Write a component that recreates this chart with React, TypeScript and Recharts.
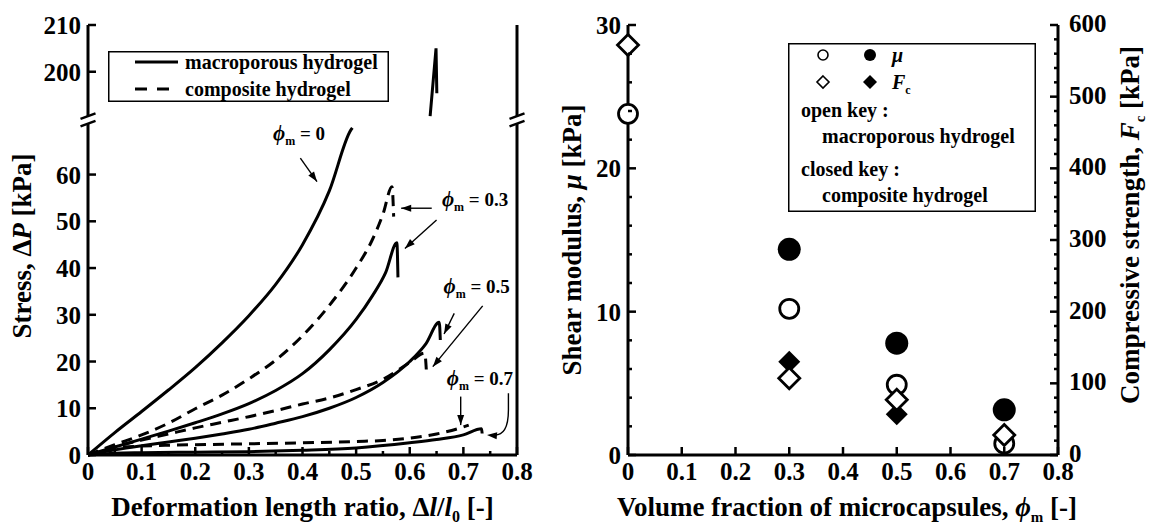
import React from 'react';
import {
  LineChart,
  Line,
  ScatterChart,
  Scatter,
  XAxis,
  YAxis,
  ReferenceLine,
  ReferenceDot,
  Legend
} from 'recharts';

const FONT = "'Liberation Serif', 'Times New Roman', serif";
const INK = '#000';

// ---------- left panel: stress vs deformation ----------
// y axis is broken: 0..70 shown, then jumps to 190..210
const BREAK_AT = 70;
const BREAK_SHIFT = 118;

const strainPhi0 = [0, 0.05, 0.1, 0.15, 0.2, 0.25, 0.3, 0.35, 0.4, 0.45, 0.49, 0.493];
const stressPhi0Macro = [0, 4.8, 9.3, 13.9, 18.7, 24, 29.8, 36.5, 45, 56.5, 69.5, 70];
const strainPhi0Top = [0.638, 0.649, 0.6505];
const stressPhi0MacroTop = [190.5, 205, 195.4];

const strainPhi03Comp = [0, 0.05, 0.1, 0.15, 0.2, 0.25, 0.3, 0.35, 0.4, 0.45, 0.5, 0.53, 0.55, 0.567, 0.57];
const stressPhi03Comp = [0, 2.2, 4.3, 6.8, 9.9, 12.8, 16.3, 20.3, 25.5, 32, 40, 46, 51.5, 57.4, 51];
const strainPhi03Macro = [0, 0.05, 0.1, 0.15, 0.2, 0.25, 0.3, 0.35, 0.4, 0.45, 0.5, 0.53, 0.555, 0.576, 0.578];
const stressPhi03Macro = [0, 1.7, 3.4, 5.1, 6.9, 8.8, 11, 13.8, 17.4, 22.5, 29, 34, 39, 45.4, 38];

const strainPhi05Comp = [0, 0.05, 0.1, 0.15, 0.2, 0.25, 0.3, 0.35, 0.4, 0.45, 0.5, 0.55, 0.6, 0.628, 0.631];
const stressPhi05Comp = [0, 1.8, 3.2, 4.5, 5.8, 7, 8.2, 9.5, 10.9, 12.2, 14, 16.2, 19.8, 21.8, 18];
const strainPhi05Macro = [0, 0.05, 0.1, 0.15, 0.2, 0.25, 0.3, 0.35, 0.4, 0.45, 0.5, 0.55, 0.6, 0.63, 0.655, 0.657];
const stressPhi05Macro = [0, 1.1, 2, 2.8, 3.6, 4.5, 5.5, 6.8, 8.2, 10, 12.3, 15.5, 20, 23.8, 28.4, 24.6];

const strainPhi07Comp = [0, 0.05, 0.1, 0.15, 0.2, 0.3, 0.4, 0.5, 0.55, 0.6, 0.65, 0.7, 0.71];
const stressPhi07Comp = [0, 1.5, 1.9, 2.1, 2.2, 2.4, 2.6, 2.9, 3.1, 3.6, 4.5, 6, 6.4];
const strainPhi07Macro = [0, 0.05, 0.1, 0.2, 0.3, 0.4, 0.5, 0.6, 0.65, 0.7, 0.734, 0.735];
const stressPhi07Macro = [0, 0.4, 0.5, 0.6, 0.7, 1, 1.5, 2.6, 3.3, 4.3, 5.6, 4.6];

const strainTicks = [0, 0.05, 0.1, 0.15, 0.2, 0.25, 0.3, 0.35, 0.4, 0.45, 0.5, 0.55, 0.6, 0.65, 0.7, 0.75, 0.8];
const stressTicks = [0, 10, 20, 30, 40, 50, 60, 200, 210];

// ---------- right panel: modulus and strength vs fraction ----------
const fractionMacro = [0, 0.3, 0.5, 0.7];
const shearMacro = [23.8, 10.2, 4.9, 0.8];
const strengthMacro = [572, 107, 77, 28];
const fractionComp = [0.3, 0.5, 0.7];
const shearComp = [14.35, 7.8, 3.15];
const fractionCompStrength = [0.3, 0.5];
const strengthComp = [130, 57];

const fractionTicks = [0, 0.1, 0.2, 0.3, 0.4, 0.5, 0.6, 0.7, 0.8];
const shearTicks = [0, 2, 4, 6, 8, 10, 12, 14, 16, 18, 20, 22, 24, 26, 28, 30];
const strengthTicks = [
  0, 20, 40, 60, 80, 100, 120, 140, 160, 180, 200, 220, 240, 260, 280, 300,
  320, 340, 360, 380, 400, 420, 440, 460, 480, 500, 520, 540, 560, 580, 600
];

const toPlot = (v: number) => (v > BREAK_AT ? v - BREAK_SHIFT : v);
const fromPlot = (v: number) => (v > BREAK_AT ? v + BREAK_SHIFT : v);
const curve = (xs: number[], ys: number[]) => xs.map((x, i) => ({ x, y: toPlot(ys[i]) }));
const points = (xs: number[], ys: number[]) => xs.map((x, i) => ({ x, y: ys[i] }));

const tickText = { fontFamily: FONT, fontWeight: 700, fontSize: 25, fill: INK };
const titleText = { fontFamily: FONT, fontWeight: 700, fontSize: 27, fill: INK };

const fmtFrac = (v: number) => (v === 0 ? '0' : v.toFixed(1));
const isTenth = (v: number) => Math.round(v * 100) % 10 === 0;

// ticks point into the plot, as in the original
const bottomTick = (major: (v: number) => boolean, fmt: (v: number) => string) => (p: any) => {
  const v = p.payload.value;
  const big = major(v);
  return (
    <g>
      <line x1={p.x} x2={p.x} y1={p.y} y2={p.y - (big ? 8 : 4)} stroke={INK} strokeWidth={2.5} />
      {big && (
        <text x={p.x} y={p.y + 25} textAnchor="middle" {...tickText}>
          {fmt(v)}
        </text>
      )}
    </g>
  );
};

const topTick = (major: (v: number) => boolean) => (p: any) => (
  <line
    x1={p.x}
    x2={p.x}
    y1={p.y}
    y2={p.y + (major(p.payload.value) ? 7 : 3.5)}
    stroke={INK}
    strokeWidth={2.5}
  />
);

const leftTick = (major: (v: number) => boolean, fmt: (v: number) => string) => (p: any) => {
  const v = p.payload.value;
  const big = major(v);
  return (
    <g>
      <line x1={p.x} x2={p.x + (big ? 8 : 4)} y1={p.y} y2={p.y} stroke={INK} strokeWidth={2.5} />
      {big && (
        <text x={p.x - 7} y={p.y + 9} textAnchor="end" {...tickText}>
          {fmt(v)}
        </text>
      )}
    </g>
  );
};

const rightTick = (major: (v: number) => boolean, fmt?: (v: number) => string) => (p: any) => {
  const v = p.payload.value;
  const big = major(v);
  return (
    <g>
      <line x1={p.x} x2={p.x - (big ? 8 : 4)} y1={p.y} y2={p.y} stroke={INK} strokeWidth={2.5} />
      {big && fmt && (
        <text x={p.x + 11} y={p.y + 7} textAnchor="start" {...tickText}>
          {fmt(v)}
        </text>
      )}
    </g>
  );
};

const arrowHead = (tx: number, ty: number, fx: number, fy: number) => {
  const a = Math.atan2(ty - fy, tx - fx);
  const bx = tx - 10 * Math.cos(a);
  const by = ty - 10 * Math.sin(a);
  const nx = -Math.sin(a) * 3.5;
  const ny = Math.cos(a) * 3.5;
  return `M${tx},${ty} L${bx + nx},${by + ny} L${bx - nx},${by - ny} Z`;
};

const straightArrow = (p: any) => (
  <g>
    <line x1={p.x1} y1={p.y1} x2={p.x2} y2={p.y2} stroke={INK} strokeWidth={1.4} />
    <path d={arrowHead(p.x2, p.y2, p.x1, p.y1)} fill={INK} />
  </g>
);

const bentArrow = (p: any) => {
  const midY = p.y1 + (p.y2 - p.y1) * 0.4;
  return (
    <g>
      <path
        d={`M${p.x1},${p.y1} L${p.x1},${midY} Q${p.x1},${p.y2 + 2} ${p.x2 + 6},${p.y2}`}
        fill="none"
        stroke={INK}
        strokeWidth={1.4}
      />
      <path d={arrowHead(p.x2, p.y2, p.x1, p.y2 + 2)} fill={INK} />
    </g>
  );
};

const phiLabel = (value: string) => (p: any) => (
  <text x={p.cx} y={p.cy} fontFamily={FONT} fontWeight={700} fontSize={19} fill={INK}>
    <tspan fontStyle="italic" fontSize={21}>ϕ</tspan>
    <tspan fontSize={12} dy={5}>m</tspan>
    <tspan dy={-5}>{' = ' + value}</tspan>
  </text>
);

const annotations = [
  { x: 0.345, y: 67.4, text: '0' },
  { x: 0.66, y: 53.3, text: '0.3' },
  { x: 0.663, y: 34.7, text: '0.5' },
  { x: 0.669, y: 15, text: '0.7' }
];
const arrows = [
  [0.396, 63.5, 0.427, 58.5],
  [0.641, 52.8, 0.584, 52.8],
  [0.65, 50.3, 0.591, 44.2],
  [0.683, 30.3, 0.664, 25.9],
  [0.736, 31.9, 0.643, 18.9],
  [0.695, 12.5, 0.695, 6.4]
];

const LeftLegend = () => (
  <svg width={281} height={51} style={{ display: 'block', background: '#fff' }}>
    <rect x={0.75} y={0.75} width={279.5} height={49.5} fill="#fff" stroke={INK} strokeWidth={1.5} />
    <line x1={27} x2={70} y1={11} y2={11} stroke={INK} strokeWidth={3} />
    <line x1={27} x2={70} y1={38} y2={38} stroke={INK} strokeWidth={3} strokeDasharray="12 10" />
    <text x={77} y={18} fontFamily={FONT} fontWeight={700} fontSize={20} fill={INK}>
      macroporous hydrogel
    </text>
    <text x={77} y={45} fontFamily={FONT} fontWeight={700} fontSize={20} fill={INK}>
      composite hydrogel
    </text>
  </svg>
);

const diamond = (cx: number, cy: number, h: number) =>
  `M${cx},${cy - h} L${cx + h},${cy} L${cx},${cy + h} L${cx - h},${cy} Z`;

const RightLegend = () => {
  const t = { fontFamily: FONT, fontWeight: 700, fontSize: 20, fill: INK };
  return (
    <svg width={248} height={169} style={{ display: 'block' }}>
      <rect x={0.75} y={0.75} width={246.5} height={167.5} fill="#fff" stroke={INK} strokeWidth={1.5} />
      <circle cx={35} cy={12} r={5} fill="#fff" stroke={INK} strokeWidth={1.6} />
      <circle cx={82} cy={12} r={6} fill={INK} />
      <text x={104} y={19} {...t} fontStyle="italic">μ</text>
      <path d={diamond(35, 39, 6)} fill="#fff" stroke={INK} strokeWidth={1.6} />
      <path d={diamond(82, 39, 7)} fill={INK} />
      <text x={104} y={46} {...t}>
        <tspan fontStyle="italic">F</tspan>
        <tspan fontSize={12} dy={5}>c</tspan>
      </text>
      <text x={13} y={74} {...t}>open key :</text>
      <text x={34} y={100} {...t}>macroporous hydrogel</text>
      <text x={13} y={133} {...t}>closed key :</text>
      <text x={34} y={159} {...t}>composite hydrogel</text>
    </svg>
  );
};

const openCircle = (p: any) => <circle cx={p.cx} cy={p.cy} r={9.5} fill="#fff" stroke={INK} strokeWidth={2.8} />;
const filledCircle = (p: any) => <circle cx={p.cx} cy={p.cy} r={11.5} fill={INK} />;
const openDiamond = (p: any) => (
  <path d={diamond(p.cx, p.cy, 10.5)} fill="#fff" stroke={INK} strokeWidth={2.8} />
);
const filledDiamond = (p: any) => <path d={diamond(p.cx, p.cy, 11)} fill={INK} />;

const frame = { stroke: INK, strokeWidth: 3 };
const GAP_LO = 70.9;
const GAP_HI = 72.5;

function StressChart() {
  const lineStyle = { stroke: INK, strokeWidth: 3, dot: false, isAnimationActive: false } as const;
  return (
    <LineChart width={540} height={524} margin={{ top: 25, right: 23, bottom: 0, left: 0 }}>
      <XAxis
        type="number"
        dataKey="x"
        domain={[0, 0.8]}
        ticks={strainTicks}
        interval={0}
        height={69}
        tickSize={0}
        tickMargin={0}
        tickLine={false}
        axisLine={frame}
        tick={bottomTick(isTenth, fmtFrac)}
        label={(p: any) => (
          <text x={p.viewBox.x + p.viewBox.width / 2} y={p.viewBox.y + 61} textAnchor="middle" {...titleText}>
            Deformation length ratio, Δ<tspan fontStyle="italic">l</tspan>/<tspan fontStyle="italic">l</tspan>
            <tspan fontSize={16} dy={6}>0</tspan>
            <tspan dy={-6}> [-]</tspan>
          </text>
        )}
      />
      <XAxis
        xAxisId="top"
        orientation="top"
        type="number"
        domain={[0, 0.8]}
        ticks={strainTicks}
        interval={0}
        height={0}
        tickSize={0}
        tickMargin={0}
        tickLine={false}
        axisLine={frame}
        tick={topTick(isTenth)}
      />
      <YAxis
        type="number"
        domain={[0, toPlot(210)]}
        ticks={stressTicks.map(toPlot)}
        interval={0}
        width={88}
        tickSize={0}
        tickMargin={0}
        tickLine={false}
        axisLine={false}
        tick={leftTick(() => true, (v) => String(fromPlot(v)))}
        label={(p: any) => (
          <text
            transform={`translate(${p.viewBox.x + 31},${p.viewBox.y + p.viewBox.height / 2 + 6}) rotate(-90)`}
            textAnchor="middle"
            {...titleText}
          >
            Stress, Δ<tspan fontStyle="italic">P</tspan> [kPa]
          </text>
        )}
      />
      <YAxis
        yAxisId="right"
        orientation="right"
        type="number"
        domain={[0, toPlot(210)]}
        ticks={[10, 20, 30, 40, 50, 60, toPlot(200)]}
        interval={0}
        width={0}
        tickSize={0}
        tickMargin={0}
        tickLine={false}
        axisLine={false}
        tick={rightTick(() => true)}
      />

      {[0, 0.8].map((x) => (
        <React.Fragment key={x}>
          <ReferenceLine segment={[{ x, y: 0 }, { x, y: GAP_LO }]} ifOverflow="visible" {...frame} />
          <ReferenceLine segment={[{ x, y: GAP_HI }, { x, y: toPlot(210) }]} ifOverflow="visible" {...frame} />
          <ReferenceLine
            segment={[{ x: x - 0.014, y: GAP_LO - 0.6 }, { x: x + 0.014, y: GAP_LO + 0.6 }]}
            ifOverflow="visible"
            stroke={INK}
            strokeWidth={2.5}
          />
          <ReferenceLine
            segment={[{ x: x - 0.014, y: GAP_HI - 0.6 }, { x: x + 0.014, y: GAP_HI + 0.6 }]}
            ifOverflow="visible"
            stroke={INK}
            strokeWidth={2.5}
          />
        </React.Fragment>
      ))}

      <Line data={curve(strainPhi0, stressPhi0Macro)} dataKey="y" type="monotone" {...lineStyle} />
      <Line data={curve(strainPhi0Top, stressPhi0MacroTop)} dataKey="y" type="linear" {...lineStyle} />
      <Line data={curve(strainPhi03Comp, stressPhi03Comp)} dataKey="y" type="monotone" strokeDasharray="11 7" {...lineStyle} />
      <Line data={curve(strainPhi03Macro, stressPhi03Macro)} dataKey="y" type="monotone" {...lineStyle} />
      <Line data={curve(strainPhi05Comp, stressPhi05Comp)} dataKey="y" type="monotone" strokeDasharray="11 7" {...lineStyle} />
      <Line data={curve(strainPhi05Macro, stressPhi05Macro)} dataKey="y" type="monotone" {...lineStyle} />
      <Line data={curve(strainPhi07Comp, stressPhi07Comp)} dataKey="y" type="monotone" strokeDasharray="11 7" {...lineStyle} />
      <Line data={curve(strainPhi07Macro, stressPhi07Macro)} dataKey="y" type="monotone" {...lineStyle} />

      {arrows.map(([x1, y1, x2, y2], i) => (
        <ReferenceLine
          key={'a' + i}
          segment={[{ x: x1, y: y1 }, { x: x2, y: y2 }]}
          ifOverflow="visible"
          shape={straightArrow}
        />
      ))}
      <ReferenceLine
        segment={[{ x: 0.784, y: 13.2 }, { x: 0.744, y: 4.3 }]}
        ifOverflow="visible"
        shape={bentArrow}
      />
      {annotations.map((a) => (
        <ReferenceDot key={a.text} x={a.x} y={a.y} r={0} ifOverflow="visible" shape={phiLabel(a.text)} />
      ))}

      <Legend
        layout="horizontal"
        verticalAlign="middle"
        align="center"
        wrapperStyle={{ left: 108, top: 51, width: 281, height: 51 }}
        content={() => <LeftLegend />}
      />
    </LineChart>
  );
}

function PropertyChart() {
  return (
    <ScatterChart width={611} height={524} margin={{ top: 25, right: 0, bottom: 0, left: 0 }}>
      <XAxis
        type="number"
        dataKey="x"
        domain={[0, 0.8]}
        ticks={fractionTicks}
        interval={0}
        height={69}
        tickSize={0}
        tickMargin={0}
        tickLine={false}
        axisLine={frame}
        tick={bottomTick(() => true, fmtFrac)}
        label={(p: any) => (
          <text x={p.viewBox.x + p.viewBox.width / 2 + 4} y={p.viewBox.y + 61} textAnchor="middle" {...titleText}>
            Volume fraction of microcapsules, <tspan fontStyle="italic">ϕ</tspan>
            <tspan fontSize={15} dy={6}>m</tspan>
            <tspan dy={-6}> [-]</tspan>
          </text>
        )}
      />
      <XAxis
        xAxisId="top"
        orientation="top"
        type="number"
        domain={[0, 0.8]}
        ticks={fractionTicks}
        interval={0}
        height={0}
        tickSize={0}
        tickMargin={0}
        tickLine={false}
        axisLine={frame}
        tick={topTick(() => true)}
      />
      <YAxis
        yAxisId="mu"
        type="number"
        dataKey="y"
        domain={[0, 30]}
        ticks={shearTicks}
        interval={0}
        width={88}
        tickSize={0}
        tickMargin={0}
        tickLine={false}
        axisLine={frame}
        tick={leftTick((v) => v % 10 === 0, (v) => String(v))}
        label={(p: any) => (
          <text
            transform={`translate(${p.viewBox.x + 41},${p.viewBox.y + p.viewBox.height / 2}) rotate(-90)`}
            textAnchor="middle"
            {...titleText}
          >
            Shear modulus, <tspan fontStyle="italic">μ</tspan> [kPa]
          </text>
        )}
      />
      <YAxis
        yAxisId="fc"
        orientation="right"
        type="number"
        dataKey="y"
        domain={[0, 600]}
        ticks={strengthTicks}
        interval={0}
        width={93}
        tickSize={0}
        tickMargin={0}
        tickLine={false}
        axisLine={frame}
        tick={rightTick((v) => v % 100 === 0, (v) => String(v))}
        label={(p: any) => (
          <text
            transform={`translate(${p.viewBox.x + 81},${p.viewBox.y + p.viewBox.height / 2 - 15}) rotate(-90)`}
            textAnchor="middle"
            {...titleText}
          >
            Compressive strength, <tspan fontStyle="italic">F</tspan>
            <tspan fontSize={15} dy={6}>c</tspan>
            <tspan dy={-6}> [kPa]</tspan>
          </text>
        )}
      />

      <Scatter yAxisId="fc" data={points(fractionCompStrength, strengthComp)} shape={filledDiamond} isAnimationActive={false} />
      <Scatter yAxisId="mu" data={points(fractionComp, shearComp)} shape={filledCircle} isAnimationActive={false} />
      <Scatter yAxisId="mu" data={points(fractionMacro, shearMacro)} shape={openCircle} isAnimationActive={false} />
      <Scatter yAxisId="fc" data={points(fractionMacro, strengthMacro)} shape={openDiamond} isAnimationActive={false} />

      <Legend
        layout="horizontal"
        verticalAlign="middle"
        align="center"
        wrapperStyle={{ left: 248, top: 43, width: 248, height: 169 }}
        content={() => <RightLegend />}
      />
    </ScatterChart>
  );
}

export default function App() {
  return (
    <div
      style={{
        position: 'absolute',
        left: 0,
        top: 0,
        width: 1151,
        height: 524,
        background: '#fff',
        fontFamily: FONT
      }}
    >
      <div style={{ position: 'absolute', left: 0, top: 0 }}>
        <StressChart />
      </div>
      <div style={{ position: 'absolute', left: 540, top: 0 }}>
        <PropertyChart />
      </div>
    </div>
  );
}
